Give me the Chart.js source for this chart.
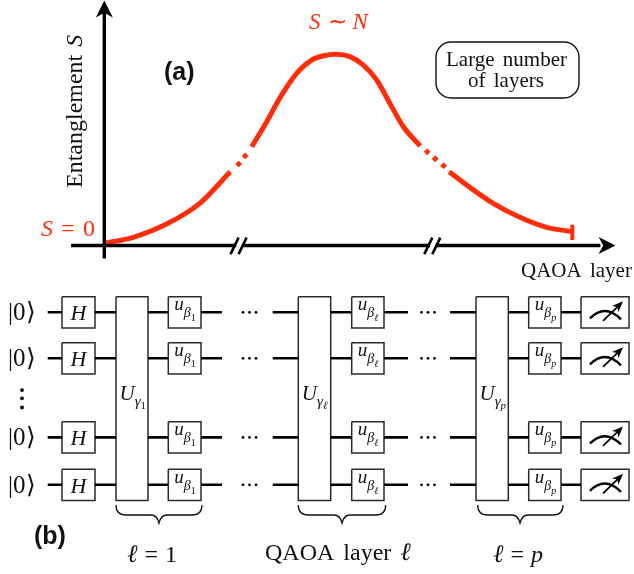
<!DOCTYPE html>
<html>
<head>
<meta charset="utf-8">
<title>QAOA entanglement</title>
<script src="https://cdn.jsdelivr.net/npm/chart.js@4"></script>
<style>
    html, body { margin: 0; padding: 0; background: #fff; }
    canvas { display: block; }
</style>
</head>
<body>
<canvas id="chart" width="634" height="574"></canvas>
<script>
// Panel (a): layer in % of the way to the end point, S in % of the peak
const riseLayers = [0, 6.2, 13.3, 20.4, 26.9];
const riseValues = [0, 3.2, 10.2, 21.2, 38];
const riseDotLayers = [28.7, 30.1];
const riseDotValues = [42.1, 46.4];
const peakLayers = [31.5, 34.3, 37.9, 41.1, 44.3, 46.8, 49.5, 52.5, 55.3, 58.2, 61, 63.9, 67.5];
const peakValues = [51.3, 62.8, 78.8, 90.3, 97.3, 99.6, 100.4, 99.1, 94.7, 86.7, 74.4, 61.9, 51.7];
const fallDotLayers = [69, 70.7, 72.5];
const fallDotValues = [48.6, 44.9, 41.2];
const fallLayers = [73.7, 78.1, 83.1, 88.8, 94.5, 100];
const fallValues = [38, 29.7, 21.2, 13.8, 8.5, 6.2];
const axisBreakLayers = [28.6, 70];

// Panel (b)
const wireLevels = [0, 1, 2.72, 3.75];
const layerSubscripts = ['1', 'ℓ', 'p'];

// Layout of the circuit, x in page px
const wireSpans = [[47.7, 62], [95, 116], [148, 168], [201, 222], [272.7, 298.3], [330.7, 351.7],
    [384, 408], [450, 476], [508.3, 528.7], [561, 581]];
const hBox = [62, 95];
const meterBox = [581, 629];
const uBoxes = [[116, 148], [298.3, 330.7], [476, 508.3]];
const betaBoxes = [[168.3, 201], [351.7, 384], [528.7, 561]];
const braces = [[116, 202, 159], [298.3, 385.7, 342], [477.7, 563, 520]];
const gateHalf = 0.34;
const RED = '#ff2d0a';
const INK = '#111';
const BOX = '#2b2b2b';

const pts = (xs, ys) => xs.map((x, i) => ({ x, y: ys[i] }));

function curve(data) {
    return { data, borderColor: RED, borderWidth: 5, showLine: true, cubicInterpolationMode: 'monotone', borderCapStyle: 'butt' };
}
function dots(data) {
    return { data, showLine: false, pointStyle: 'rect', pointRadius: 3.4, rotation: 45, pointBackgroundColor: RED, pointBorderWidth: 0 };
}
function rect(x0, x1, l0, l1) {
    return {
        xAxisID: 'xc', yAxisID: 'yc', showLine: true, borderColor: BOX, borderWidth: 1.5, tension: 0,
        borderJoinStyle: 'miter',
        data: [{ x: x0, y: l0 }, { x: x1, y: l0 }, { x: x1, y: l1 }, { x: x0, y: l1 }, { x: x0, y: l0 }]
    };
}

const datasets = [];
// axes, broken around the // marks
datasets.push({
    data: [{ x: -7.1, y: -1.2 }, { x: axisBreakLayers[0] - 0.4, y: -1.2 }, { x: axisBreakLayers[0], y: null },
        { x: axisBreakLayers[0] + 0.8, y: -1.2 }, { x: axisBreakLayers[1] - 0.4, y: -1.2 }, { x: axisBreakLayers[1], y: null },
        { x: axisBreakLayers[1] + 0.8, y: -1.2 }, { x: 106, y: -1.2 }],
    borderColor: '#000', borderWidth: 3.4, showLine: true, spanGaps: false
});
datasets.push({
    data: [{ x: 0, y: -8 }, { x: 0, y: 123 }],
    borderColor: '#000', borderWidth: 3.4, showLine: true
});
datasets.push(curve(pts(riseLayers, riseValues)));
datasets.push(dots(pts(riseDotLayers, riseDotValues)));
datasets.push(curve(pts(peakLayers, peakValues)));
datasets.push(dots(pts(fallDotLayers, fallDotValues)));
datasets.push(curve(pts(fallLayers, fallValues)));
datasets.push({
    data: [{ x: 100, y: 9.8 }, { x: 100, y: 1.8 }],
    borderColor: RED, borderWidth: 4, showLine: true
});

// wires
wireLevels.forEach(level => {
    const data = [];
    wireSpans.forEach(span => {
        data.push({ x: span[0], y: level }, { x: span[1], y: level }, { x: span[1], y: null });
    });
    datasets.push({ xAxisID: 'xc', yAxisID: 'yc', data, borderColor: '#000', borderWidth: 2.6, showLine: true, spanGaps: false });
    // ... between the layers
    datasets.push({
        xAxisID: 'xc', yAxisID: 'yc', showLine: false, pointStyle: 'circle', pointRadius: 1.4,
        pointBackgroundColor: '#000', pointBorderWidth: 0,
        data: [243, 249.5, 256, 421.5, 428, 434.5].map(x => ({ x, y: level }))
    });
    datasets.push(rect(hBox[0], hBox[1], level - gateHalf, level + gateHalf));
    datasets.push(rect(meterBox[0], meterBox[1], level - gateHalf, level + gateHalf));
    betaBoxes.forEach(b => datasets.push(rect(b[0], b[1], level - gateHalf, level + gateHalf)));
});
uBoxes.forEach(b => datasets.push(rect(b[0], b[1], wireLevels[0] - gateHalf, wireLevels[3] + gateHalf)));
// vertical dots
datasets.push({
    xAxisID: 'xc', yAxisID: 'yc', showLine: false, pointStyle: 'circle', pointRadius: 1.9,
    pointBackgroundColor: '#000', pointBorderWidth: 0,
    data: [1.69, 1.87, 2.07].map(y => ({ x: 22, y }))
});

function drawRuns(ctx, x, y, runs, color, ws) {
    let cx = x;
    ctx.fillStyle = color || INK;
    ctx.textAlign = 'left';
    ctx.textBaseline = 'alphabetic';
    ctx.wordSpacing = (ws || 0) + 'px';
    runs.forEach(r => {
        ctx.font = (r.i ? 'italic ' : '') + (r.b ? 'bold ' : '') + r.s + 'px ' + (r.f || '"Liberation Serif"');
        ctx.fillText(r.t, cx, y + (r.d || 0));
        cx += ctx.measureText(r.t).width + (r.g || 0);
    });
    ctx.wordSpacing = '0px';
}

function arrowHead(ctx, x, y, angle, len, half) {
    ctx.save();
    ctx.translate(x, y);
    ctx.rotate(angle);
    ctx.beginPath();
    ctx.moveTo(0, 0);
    ctx.lineTo(-len, -half);
    ctx.lineTo(-len * 0.72, 0);
    ctx.lineTo(-len, half);
    ctx.closePath();
    ctx.fillStyle = '#000';
    ctx.fill();
    ctx.restore();
}

function brace(ctx, x0, x1, tip, top) {
    const mid = top + 10, low = top + 18;
    ctx.beginPath();
    ctx.moveTo(x0, top);
    ctx.quadraticCurveTo(x0, mid, x0 + 10, mid);
    ctx.lineTo(tip - 8, mid);
    ctx.quadraticCurveTo(tip - 2, mid, tip, low);
    ctx.quadraticCurveTo(tip + 2, mid, tip + 8, mid);
    ctx.lineTo(x1 - 10, mid);
    ctx.quadraticCurveTo(x1, mid, x1, top);
    ctx.strokeStyle = '#111';
    ctx.lineWidth = 1.3;
    ctx.stroke();
}

// arrowheads, break marks, meters, braces and every text label
const annotations = {
    id: 'annotations',
    afterDatasetsDraw(chart) {
        const ctx = chart.ctx;
        const { x, y, yc } = chart.scales;
        const axisY = y.getPixelForValue(-1.2);
        ctx.save();
        arrowHead(ctx, x.getPixelForValue(0), 0.5, -Math.PI / 2, 17, 8.5);
        arrowHead(ctx, 615.5, axisY, 0, 17, 8.5);

        // slashes on the layer axis
        ctx.strokeStyle = '#000';
        ctx.lineWidth = 2.6;
        axisBreakLayers.forEach(l => {
            const px = x.getPixelForValue(l) + 0.4;
            [-4, 4].forEach(off => {
                ctx.beginPath();
                ctx.moveTo(px + off - 4, axisY + 8.5);
                ctx.lineTo(px + off + 4, axisY - 8);
                ctx.stroke();
            });
        });

        // measurement glyphs
        wireLevels.forEach(level => {
            const cy = yc.getPixelForValue(level), cx = 605;
            ctx.strokeStyle = '#000';
            ctx.lineWidth = 2.4;
            ctx.beginPath();
            ctx.moveTo(cx - 15, cy + 6);
            ctx.quadraticCurveTo(cx, cy - 9, cx + 16, cy + 7);
            ctx.stroke();
            ctx.lineWidth = 1.8;
            ctx.beginPath();
            ctx.moveTo(cx - 2, cy + 8.5);
            ctx.lineTo(cx + 13, cy - 6);
            ctx.stroke();
            arrowHead(ctx, cx + 18, cy - 11, Math.atan2(-19, 19), 11, 4.5);
        });

        braces.forEach(b => brace(ctx, b[0], b[1], b[2], 505));

        // panel (a) text
        ctx.save();
        ctx.translate(82, 188);
        ctx.rotate(-Math.PI / 2);
        drawRuns(ctx, 0, 0, [{ t: 'Entanglement', s: 24, g: 8 }, { t: 'S', s: 24, i: true }]);
        ctx.restore();
        const sans = '"Liberation Sans"';
        drawRuns(ctx, 164, 80, [{ t: '(a)', s: 25, b: true, f: sans }]);
        drawRuns(ctx, 41, 236, [{ t: 'S', s: 24, i: true, g: 8 }, { t: '=', s: 24, g: 8.5 }, { t: '0', s: 24 }], RED);
        drawRuns(ctx, 309, 29, [{ t: 'S', s: 23, i: true, g: 7 }, { t: '∼', s: 23, g: 6 }, { t: 'N', s: 23, i: true }], RED);

        ctx.beginPath();
        ctx.roundRect(436, 42, 143, 56, 15);
        ctx.strokeStyle = '#111';
        ctx.lineWidth = 1.4;
        ctx.stroke();
        drawRuns(ctx, 446, 66, [{ t: 'Large number', s: 21 }], INK, 3);
        drawRuns(ctx, 468, 87, [{ t: 'of layers', s: 21 }], INK, 3);
        drawRuns(ctx, 521, 277, [{ t: 'QAOA layer', s: 21 }], INK, 3);

        // panel (b) gate text
        wireLevels.forEach(level => {
            const cy = yc.getPixelForValue(level);
            drawRuns(ctx, 8, cy + 8, [{ t: '|0⟩', s: 25 }]);
            drawRuns(ctx, 70.5, cy + 8, [{ t: 'H', s: 22, i: true }]);
            betaBoxes.forEach((b, i) => {
                drawRuns(ctx, b[0] + 6, cy - 2, [
                    { t: 'u', s: 19, i: true },
                    { t: 'β', s: 14, i: true, d: 7 },
                    { t: layerSubscripts[i], s: 10, i: i > 0, d: 11 }
                ]);
            });
        });
        uBoxes.forEach((b, i) => {
            drawRuns(ctx, b[0] + 3.5, 400, [
                { t: 'U', s: 21, i: true },
                { t: 'γ', s: 15, i: true, d: 6 },
                { t: layerSubscripts[i], s: 11, i: i > 0, d: 9 }
            ]);
        });
        drawRuns(ctx, 34, 544, [{ t: '(b)', s: 25, b: true, f: sans }]);
        drawRuns(ctx, 127, 562, [{ t: 'ℓ', s: 25, i: true, g: 7 }, { t: '=', s: 24, g: 7 }, { t: '1', s: 24 }]);
        drawRuns(ctx, 265, 560, [{ t: 'QAOA layer ', s: 24 }, { t: 'ℓ', s: 25, i: true }], INK, 3);
        drawRuns(ctx, 493, 562, [{ t: 'ℓ', s: 25, i: true, g: 7 }, { t: '=', s: 24, g: 7 }, { t: 'p', s: 24, i: true }]);
        ctx.restore();
    }
};

new Chart(document.getElementById('chart'), {
    type: 'scatter',
    data: { datasets },
    plugins: [annotations],
    options: {
        responsive: false,
        animation: false,
        layout: { padding: 0, autoPadding: false },
        elements: { point: { radius: 0 } },
        plugins: { legend: { display: false }, tooltip: { enabled: false } },
        scales: {
            x: { type: 'linear', display: false, min: -22.29, max: 113.18 },
            y: { type: 'linear', display: false, min: -175.6, max: 129.2 },
            xc: { type: 'linear', display: false, min: 0, max: 634 },
            yc: { type: 'linear', display: false, reverse: true, min: -6.789, max: 5.689 }
        }
    }
});
</script>
</body>
</html>
